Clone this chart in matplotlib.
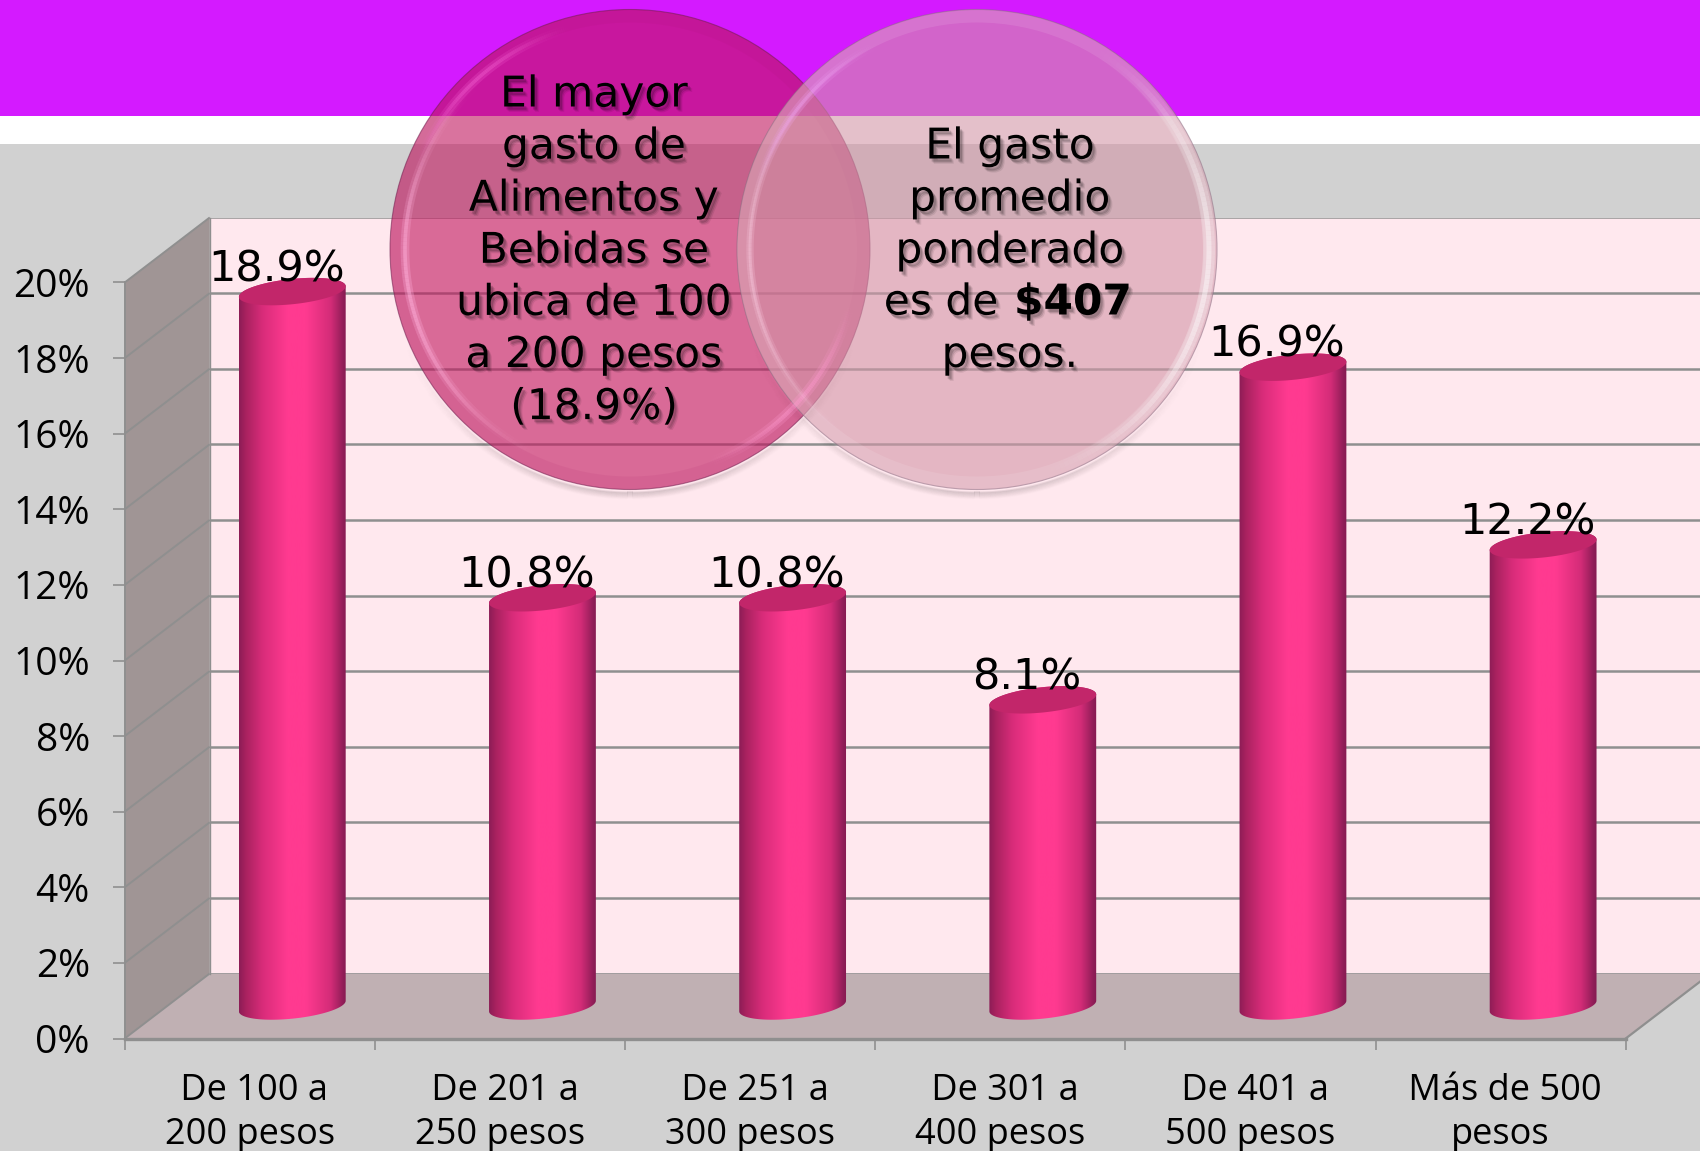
import numpy as np
import matplotlib
matplotlib.use("Agg")
import matplotlib.pyplot as plt
from matplotlib.patches import Polygon, Circle, Rectangle, Wedge
from matplotlib.collections import LineCollection
from matplotlib.colors import LinearSegmentedColormap, to_rgb
import matplotlib.patheffects as pe

categories = [" De 100 a\n200 pesos", " De 201 a\n250 pesos", " De 251 a\n300 pesos",
              " De 301 a\n400 pesos", " De 401 a\n500 pesos", " Más de 500\npesos"]
values = [18.9, 10.8, 10.8, 8.1, 16.9, 12.2]
value_labels = ["18.9%", "10.8%", "10.8%", "8.1%", "16.9%", "12.2%"]
yticks = list(range(0, 21, 2))
left_note = ["El mayor", "gasto de", "Alimentos y", "Bebidas se", "ubica de 100", "a 200 pesos", "(18.9%)"]
right_note = ["El gasto", "promedio", "ponderado", None, "pesos."]

W, H = 1700, 1151
plt.rcParams['font.family'] = ['Open Sans', 'DejaVu Sans']
fig = plt.figure(figsize=(W / 100, H / 100), dpi=100)
GRID = '#8f8f8f'

# layout of the pseudo-3D box, in pixels
X0, X1 = 124.7, 1625.7      # front axis left/right
Y0, Y20 = 1038.5, 282.5     # front axis 0% / 20%
DX, DY = 85.0, 65.0         # depth offset to the back wall
PX = (Y0 - Y20) / 20.0
CW = (X1 - X0) / 6.0


def axes_px(x0, x1, ytop, ybot, z):
    a = fig.add_axes([x0 / W, 1 - ybot / H, (x1 - x0) / W, (ybot - ytop) / H], zorder=z)
    a.patch.set_alpha(0)
    return a


# background
bg = fig.add_axes([0, 0, 1, 1], zorder=0)
bg.set_xlim(0, W); bg.set_ylim(H, 0); bg.axis('off')
bg.add_patch(Rectangle((0, 144), W, H - 144, fc='#d1d1d1', ec='none'))
bg.add_patch(Rectangle((0, 0), W, 116, fc='#d41aff', ec='none'))
bx0, by0 = X0 + DX, Y0 - DY
by20 = Y20 - DY
bg.add_patch(Polygon([(bx0, by20), (W + 20, by20), (W + 20, by0), (bx0, by0)], fc='#ffe8ee', ec='none'))
bg.add_patch(Polygon([(X0, Y20), (bx0, by20), (bx0, by0), (X0, Y0)], fc='#a09595', ec='none'))
bg.add_patch(Polygon([(X0, Y0), (bx0, by0), (X1 + DX, by0), (X1, Y0)], fc='#c0b0b3', ec='none'))
for t in yticks:
    yy = Y0 - t * PX
    bg.plot([X0, bx0], [yy, yy - DY], color=GRID, lw=1.4, solid_capstyle='butt')
bg.plot([X1, X1 + DX], [Y0, Y0 - DY], color=GRID, lw=1.6)
bg.plot([bx0, bx0], [by20, by0], color=GRID, lw=1.0)

# back wall gridlines
ax_back = axes_px(bx0, X1 + DX, by20, by0, 1)
ax_back.set_xlim(0, 6); ax_back.set_ylim(0, 20)
ax_back.set_yticks(yticks); ax_back.set_xticks([])
ax_back.tick_params(left=False, labelleft=False)
ax_back.grid(axis='y', color=GRID, lw=1.8)
for s in ax_back.spines.values():
    s.set_visible(False)

# front axes: ticks and labels
ax = axes_px(X0, X1, Y20, Y0, 2)
ax.set_xlim(0, 6); ax.set_ylim(0, 20)
ax.set_yticks(yticks)
ax.set_yticklabels([f"{t}%" for t in yticks], fontsize=28, va='center_baseline')
ax.tick_params(axis='y', length=8.6, width=1.2, color=GRID, pad=16.5)
ax.set_xticks(range(7))
ax.set_xticklabels([])
ax.tick_params(axis='x', which='major', length=8, width=1.2, color=GRID)
ax.set_xticks([i + 0.5 for i in range(6)], minor=True)
ax.set_xticklabels(categories, minor=True, fontsize=26, linespacing=1.29)
ax.tick_params(axis='x', which='minor', length=0, pad=25)
for k, s in ax.spines.items():
    s.set_visible(k in ('left', 'bottom'))
    s.set_color(GRID)
ax.spines['bottom'].set_linewidth(2.4)
ax.spines['left'].set_linewidth(1.4)

# cylinders, at mid depth
ymin_b, ymax_b = -2.0, 21.0
mx, my = DX / 2, DY / 2
ax_bar = axes_px(X0 + mx, X1 + mx, (Y20 - my) - PX, (Y0 - my) + 2 * PX, 3)
ax_bar.set_xlim(0, 6); ax_bar.set_ylim(ymin_b, ymax_b)
ax_bar.axis('off')
A, B, TILT = 53.7, 12.6, np.radians(6)
grad = LinearSegmentedColormap.from_list('cyl', [(0, '#8c1c56'), (0.06, '#a8225f'), (0.22, '#d92c7a'),
                                                 (0.45, '#ff3a90'), (0.62, '#ff3a90'), (0.85, '#d42c78'),
                                                 (0.97, '#8f1d57'), (1, '#861a52')])
g = np.linspace(0, 1, 256).reshape(1, -1)


def ell(cx, v, t):
    dx = A * np.cos(t) * np.cos(TILT) - B * np.sin(t) * np.sin(TILT)
    dy = A * np.cos(t) * np.sin(TILT) + B * np.sin(t) * np.cos(TILT)
    return np.column_stack([cx + dx / CW, v + dy / PX])


for i, (v, lab) in enumerate(zip(values, value_labels)):
    cx = i + 0.5
    low = ell(cx, 0.0, np.linspace(np.pi, 2 * np.pi, 60))
    up = ell(cx, v, np.linspace(0, np.pi, 60))
    body = Polygon(np.vstack([low, up]), closed=True, fc='none', ec='none', transform=ax_bar.transData)
    ax_bar.add_patch(body)
    im = ax_bar.imshow(g, cmap=grad, aspect='auto', extent=(cx - A / CW, cx + A / CW, ymin_b, v + 1), zorder=2)
    im.set_clip_path(body)
    cap = ell(cx, v, np.linspace(0, 2 * np.pi, 120))
    ax_bar.add_patch(Polygon(cap, closed=True, fc='#c2266a', ec='none', zorder=3))
    ax_bar.annotate(lab, (cx, v), xytext=(-16 * 0.72, 10.5 * 0.72), textcoords='offset points',
                    ha='center', va='baseline', fontsize=31, family='DejaVu Sans', color='black', zorder=5)
ax_bar.set_xlim(0, 6); ax_bar.set_ylim(ymin_b, ymax_b)

# glass circles and notes
top = fig.add_axes([0, 0, 1, 1], zorder=5)
top.set_xlim(0, W); top.set_ylim(H, 0); top.axis('off'); top.patch.set_alpha(0)
R = 240


def glow(cx, cy, r, center, span, color, peak, lw):
    ang = np.radians(np.linspace(center - span, center + span, 120))
    pts = np.column_stack([cx + r * np.cos(ang), cy - r * np.sin(ang)])
    segs = np.stack([pts[:-1], pts[1:]], axis=1)
    fade = np.cos(np.linspace(-np.pi / 2, np.pi / 2, len(segs))) ** 2 * peak
    rgb = to_rgb(color)
    top.add_collection(LineCollection(segs, colors=[(*rgb, f) for f in fade], linewidths=lw, capstyle='butt'))


def shadow(cx, cy):
    for k in range(1, 8):
        glow(cx, cy + 2, R + k, -90, 75, 'black', 0.10 * (1 - k / 8), 1.4)


def disc(cx, cy, fill, edge):
    top.add_patch(Circle((cx, cy), R, fc=fill, alpha=0.6, ec='none'))
    top.add_patch(Circle((cx, cy), R, fc='none', ec=edge, lw=0.8, alpha=0.55))


def soft(cx, cy, r, center, span, color, peak, lw):
    # a broad faint band under a narrower one, so the highlight has no hard edge
    glow(cx, cy, r, center, span, color, peak * 0.35, lw * 2.4)
    glow(cx, cy, r, center, span, color, peak * 0.55, lw)


shadow(630, 249.5)
disc(630, 249.5, '#c0165d', '#70204f')
top.add_patch(Wedge((630, 249.5), R, 0, 360, width=13, fc='#a01060', alpha=0.08, ec='none'))
soft(630, 249.5, 225, 190, 62, '#ffb0dc', 0.85, 2.6)
soft(630, 249.5, 227, -42, 32, '#ff9ad0', 0.8, 3.0)
soft(630, 249.5, 229, 132, 30, '#ff70e0', 0.6, 2.6)

shadow(977, 249.5)
disc(977, 249.5, '#d296a7', '#8a6a80')
top.add_patch(Wedge((977, 249.5), R, 0, 360, width=13, fc='#ffffff', alpha=0.10, ec='none'))
soft(977, 249.5, 232, -8, 72, '#ffffff', 0.8, 3.6)
soft(977, 249.5, 227, 185, 60, '#ffd6ea', 0.6, 2.2)
soft(977, 249.5, 228, 140, 28, '#f0a0f5', 0.7, 2.6)

fx = [pe.SimplePatchShadow(offset=(3.2, -3.8), alpha=0.08, shadow_rgbFace='black'),
      pe.SimplePatchShadow(offset=(2.4, -3.0), alpha=0.12, shadow_rgbFace='black'),
      pe.SimplePatchShadow(offset=(1.6, -2.2), alpha=0.16, shadow_rgbFace='black'),
      pe.Normal()]


def note(x, y, s, **kw):
    t = top.text(x, y, s, fontsize=30.5, family='DejaVu Sans', color='black', va='baseline', **kw)
    t.set_path_effects(fx)
    return t


for j, line in enumerate(left_note):
    note(594, 106.5 + 52.1 * j, line, ha='center')
for j, line in enumerate(right_note):
    if line is not None:
        note(1010, 158.5 + 52.1 * j, line, ha='center')
note(1012, 314.5, "es de ", ha='right')
note(1014, 314.5, "$407", ha='left', fontweight='bold')

fig.savefig('out.png', dpi=100)
